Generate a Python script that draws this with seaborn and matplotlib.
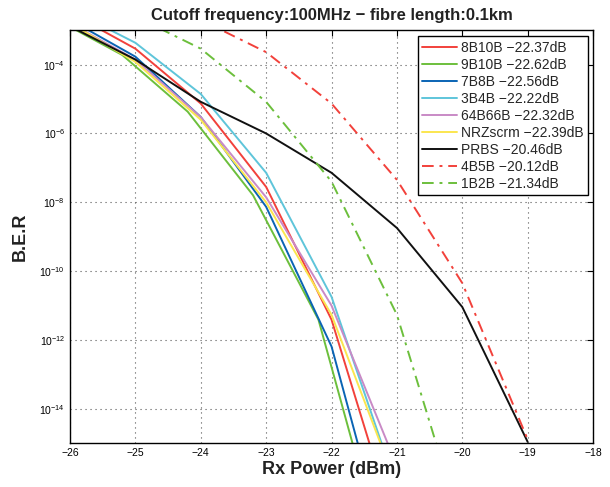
import numpy as np
import pandas as pd
import matplotlib
matplotlib.use("Agg")
import matplotlib.pyplot as plt
import seaborn as sns

# -----------------------------------------
# 1. DATA
# -----------------------------------------

x_main = [-26, -25, -24, -23, -22, -21]
x_9b10b = [-26.2, -25.2, -24.2, -23.2, -22.2, -21.2]
x_prbs = [-26, -25, -24, -23, -22, -21, -20, -19]
x_4b5b = [-24, -23, -22, -21, -20, -19]
x_1b2b = [-25, -24, -23, -22, -21, -20]

ber_8b10b = [3.2e-3, 2.9e-4, 7.4e-6, 2.8e-8, 3.9e-12, 2.5e-18]
ber_9b10b = [2.0e-3, 1.9e-4, 4.3e-6, 1.6e-8, 3.9e-12, 5.0e-19]
ber_7b8b = [2.0e-3, 1.7e-4, 3.0e-6, 7.4e-9, 6.5e-13, 6.3e-20]
ber_3b4b = [4.0e-3, 4.3e-4, 1.4e-5, 7.2e-8, 1.8e-11, 5.0e-17]
ber_64b66b = [1.6e-3, 1.4e-4, 3.0e-6, 1.4e-8, 1.0e-11, 2.2e-16]
ber_nrz = [1.6e-3, 1.2e-4, 2.5e-6, 1.0e-8, 5.4e-12, 5.6e-17]
ber_prbs = [1.3e-3, 1.4e-4, 8.3e-6, 1.0e-6, 7.2e-8, 1.8e-9, 9.1e-12, 1.1e-15]
ber_4b5b = [2.0e-3, 2.3e-4, 7.4e-6, 4.5e-8, 4.5e-11, 1.3e-15]
ber_1b2b = [2.5e-3, 2.9e-4, 8.3e-6, 4.0e-8, 5.4e-12, 3.2e-18]

labels = ["8B10B \u221222.37dB", "9B10B \u221222.62dB", "7B8B \u221222.56dB",
          "3B4B \u221222.22dB", "64B66B \u221222.32dB", "NRZscrm \u221222.39dB",
          "PRBS \u221220.46dB", "4B5B \u221220.12dB", "1B2B \u221221.34dB"]

colors = ["#f2413b", "#6cbf3c", "#0a64b4", "#5ec5da", "#c98ac6",
          "#fbe64f", "#111111", "#f2413b", "#6cbf3c"]

series = [(x_main, ber_8b10b), (x_9b10b, ber_9b10b), (x_main, ber_7b8b),
          (x_main, ber_3b4b), (x_main, ber_64b66b), (x_main, ber_nrz),
          (x_prbs, ber_prbs), (x_4b5b, ber_4b5b), (x_1b2b, ber_1b2b)]

dashdot = (0, (6, 3, 1.5, 3))
styles = ["-"] * 7 + [dashdot, dashdot]

# -----------------------------------------
# 2. STYLE
# -----------------------------------------

sns.set_style("white")
plt.rcParams["font.family"] = ["Liberation Sans", "DejaVu Sans"]
plt.rcParams["axes.unicode_minus"] = True

fig = plt.figure(figsize=(6.1, 4.87), dpi=100)
ax = fig.add_axes([0.1148, 0.0897, 0.8574, 0.8483])

# -----------------------------------------
# 3. PLOT
# -----------------------------------------

for (xs, ys), lab, col, ls in zip(series, labels, colors, styles):
    df = pd.DataFrame({"x": xs, "ber": ys})
    sns.lineplot(data=df, x="x", y="ber", ax=ax, color=col, linestyle=ls,
                 linewidth=1.4, label=lab, sort=False)

ax.set_yscale("log")
ax.set_xlim(-26, -18)
ax.set_ylim(1e-15, 1e-3)
ax.set_xticks(np.arange(-26, -17, 1))
ax.set_xticklabels([f"\u2212{abs(v)}" for v in range(-26, -17)])
ax.set_yticks([1e-14, 1e-12, 1e-10, 1e-8, 1e-6, 1e-4])
ax.yaxis.set_minor_locator(matplotlib.ticker.NullLocator())

ax.grid(True, which="major", linestyle=(0, (1, 3.5)), color="#555555", linewidth=0.8)
ax.tick_params(direction="in", top=True, right=True, labelsize=7.5, length=4,
               width=0.8, colors="black")
for s in ax.spines.values():
    s.set_color("black")
    s.set_linewidth(1.0)

ax.set_title("Cutoff frequency:100MHz \u2212 fibre length:0.1km",
             fontsize=12, fontweight="bold", pad=7, color="#222222")
ax.set_xlabel("Rx Power (dBm)", fontsize=13, fontweight="bold", labelpad=2,
              color="#222222")
ax.set_ylabel("B.E.R", fontsize=13, fontweight="bold", labelpad=8,
              color="#222222")

leg = ax.legend(loc="upper right", fontsize=10, frameon=True, fancybox=False,
                handlelength=2.5, labelspacing=0.22, borderpad=0.3,
                handletextpad=0.3, borderaxespad=0,
                bbox_to_anchor=(0.9905, 0.985))
leg.get_frame().set_edgecolor("black")
leg.get_frame().set_linewidth(1.0)
leg.get_frame().set_alpha(1)

fig.savefig("out.png", dpi=100)
